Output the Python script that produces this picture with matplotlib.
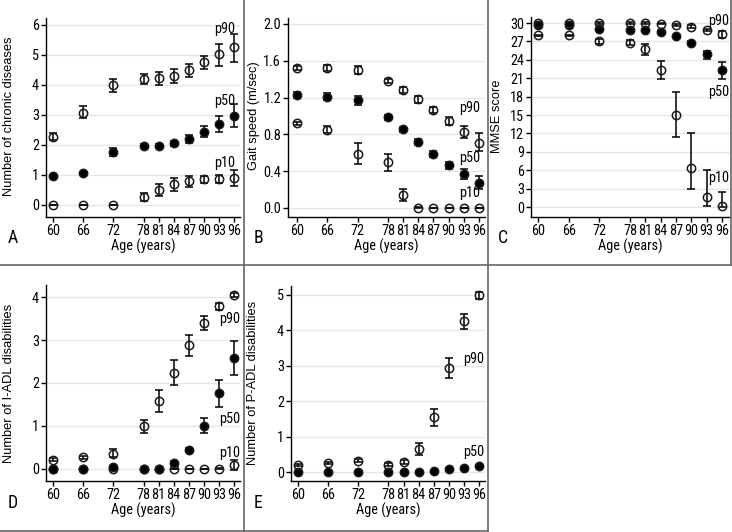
import os
import matplotlib
matplotlib.use("Agg")
import matplotlib.pyplot as plt
from matplotlib.lines import Line2D
from matplotlib import font_manager
from matplotlib.font_manager import FontProperties
from matplotlib.textpath import TextPath
import numpy as np

plt.rcParams['font.family'] = ['Liberation Sans', 'DejaVu Sans']

ages = [60, 66, 72, 78, 81, 84, 87, 90, 93, 96]
age_labels = [str(a) for a in ages]

# Panel A: chronic diseases
a_p90 = [2.28, 3.08, 4.00, 4.20, 4.22, 4.31, 4.50, 4.76, 5.02, 5.28]
a_p90_lo = [2.17, 2.89, 3.78, 4.02, 4.00, 4.08, 4.28, 4.52, 4.64, 4.78]
a_p90_hi = [2.39, 3.30, 4.20, 4.37, 4.42, 4.52, 4.69, 4.97, 5.36, 5.69]
a_p50 = [0.97, 1.06, 1.76, 1.98, 1.98, 2.06, 2.19, 2.44, 2.70, 2.98]
a_p50_lo = [0.93, 1.01, 1.63, 1.93, 1.92, 1.97, 2.06, 2.26, 2.42, 2.61]
a_p50_hi = [1.01, 1.11, 1.89, 2.03, 2.04, 2.14, 2.33, 2.63, 2.97, 3.36]
a_p10 = [0.0, 0.0, 0.0, 0.28, 0.50, 0.69, 0.80, 0.86, 0.87, 0.91]
a_p10_lo = [0.0, 0.0, 0.0, 0.14, 0.30, 0.47, 0.61, 0.74, 0.74, 0.64]
a_p10_hi = [0.0, 0.0, 0.0, 0.41, 0.70, 0.91, 0.98, 0.97, 1.00, 1.17]

# Panel B: gait speed
b_p90 = [1.52, 1.52, 1.50, 1.38, 1.28, 1.18, 1.065, 0.945, 0.83, 0.71]
b_p90_lo = [1.50, 1.49, 1.46, 1.36, 1.25, 1.14, 1.03, 0.90, 0.76, 0.62]
b_p90_hi = [1.54, 1.55, 1.54, 1.40, 1.31, 1.22, 1.10, 0.99, 0.89, 0.81]
b_p50 = [1.23, 1.21, 1.17, 0.985, 0.855, 0.72, 0.585, 0.465, 0.367, 0.276]
b_p50_lo = [1.20, 1.17, 1.12, 0.955, 0.825, 0.69, 0.555, 0.425, 0.31, 0.21]
b_p50_hi = [1.26, 1.25, 1.22, 1.015, 0.885, 0.75, 0.615, 0.505, 0.42, 0.35]
b_p10 = [0.92, 0.85, 0.59, 0.495, 0.145, 0.005, 0.0, 0.0, 0.0, 0.0]
b_p10_lo = [0.90, 0.81, 0.48, 0.40, 0.08, 0.0, 0.0, 0.0, 0.0, 0.0]
b_p10_hi = [0.94, 0.89, 0.71, 0.585, 0.21, 0.01, 0.0, 0.0, 0.0, 0.0]

# Panel C: MMSE
c_p90 = [30.0, 30.0, 30.0, 30.0, 30.0, 29.9, 29.7, 29.4, 28.9, 28.2]
c_p90_lo = [29.9, 29.9, 29.9, 29.9, 29.9, 29.8, 29.5, 29.2, 28.7, 27.55]
c_p90_hi = [30.1, 30.1, 30.1, 30.1, 30.1, 30.0, 29.9, 29.6, 29.1, 28.75]
c_p50 = [29.7, 29.7, 29.0, 28.9, 28.9, 28.6, 27.9, 26.8, 24.9, 22.35]
c_p50_lo = [29.6, 29.6, 28.9, 28.8, 28.8, 28.4, 27.7, 26.6, 24.1, 20.9]
c_p50_hi = [29.8, 29.8, 29.1, 29.0, 29.0, 28.8, 28.1, 27.0, 25.5, 23.6]
c_p10 = [28.0, 28.0, 27.0, 26.8, 25.8, 22.3, 15.0, 6.4, 1.7, 0.1]
c_p10_lo = [27.9, 27.9, 26.5, 26.4, 24.8, 20.8, 11.4, 2.9, 0.2, 0.0]
c_p10_hi = [28.1, 28.1, 27.45, 27.2, 26.5, 23.75, 18.7, 12.0, 6.0, 2.5]

# Panel D: I-ADL disabilities
d_p90 = [0.22, 0.27, 0.35, 1.00, 1.59, 2.24, 2.88, 3.40, 3.78, 4.04]
d_p90_lo = [0.18, 0.23, 0.27, 0.84, 1.33, 1.95, 2.63, 3.23, 3.70, 3.99]
d_p90_hi = [0.26, 0.31, 0.46, 1.15, 1.83, 2.53, 3.11, 3.55, 3.86, 4.09]
d_p50 = [0.0, 0.0, 0.05, 0.0, 0.0, 0.15, 0.44, 1.00, 1.76, 2.58]
d_p50_lo = [0.0, 0.0, 0.02, 0.0, 0.0, 0.12, 0.39, 0.83, 1.45, 2.18]
d_p50_hi = [0.0, 0.0, 0.08, 0.0, 0.0, 0.18, 0.49, 1.18, 2.07, 2.97]
d_p10 = [0.0, 0.0, 0.0, 0.0, 0.0, 0.0, 0.0, 0.0, 0.0, 0.10]
d_p10_lo = [0.0, 0.0, 0.0, 0.0, 0.0, 0.0, 0.0, 0.0, 0.0, -0.02]
d_p10_hi = [0.0, 0.0, 0.0, 0.0, 0.0, 0.0, 0.0, 0.0, 0.03, 0.21]

# Panel E: P-ADL disabilities
e_p90 = [0.20, 0.25, 0.32, 0.20, 0.28, 0.66, 1.54, 2.93, 4.25, 5.00]
e_p90_lo = [0.17, 0.22, 0.28, 0.16, 0.23, 0.49, 1.31, 2.65, 4.03, 4.88]
e_p90_hi = [0.23, 0.28, 0.36, 0.24, 0.33, 0.82, 1.78, 3.21, 4.45, 5.09]
e_p50 = [0.0, 0.0, 0.0, 0.0, 0.0, 0.01, 0.04, 0.08, 0.11, 0.16]
e_p50_lo = [0.0, 0.0, 0.0, 0.0, 0.0, 0.0, 0.02, 0.06, 0.08, 0.11]
e_p50_hi = [0.0, 0.0, 0.0, 0.0, 0.0, 0.02, 0.06, 0.10, 0.14, 0.21]


# ---- pick a narrow sans font if one is installed ----
def find_narrow():
    best = None
    bad = ['bold', 'italic', 'light', 'thin', 'black', 'medium', 'semi', 'oblique', 'heavy']
    for f in font_manager.fontManager.ttflist:
        fn = os.path.basename(f.fname).lower()
        n = f.name.lower()
        if any(b in fn for b in bad):
            continue
        if not fn.endswith(('.ttf', '.otf')):
            continue
        pr = None
        if 'liberationsansnarrow' in fn.replace('-', '') or 'liberation sans narrow' in n:
            pr = 0
        elif 'arialnarrow' in fn.replace(' ', '') or 'arial narrow' in n:
            pr = 1
        elif ('condensed' in fn or 'condensed' in n) and ('noto' in fn or 'roboto' in fn or 'opensans' in fn) and 'extracondensed' not in fn:
            pr = 2
        if pr is not None and (best is None or pr < best[0]):
            best = (pr, f.fname)
    return best[1] if best else None


narrow_path = find_narrow()
if narrow_path:
    base_fp = FontProperties(fname=narrow_path)
else:
    base_fp = FontProperties(family='Liberation Sans')


def ink_w(s, size):
    return TextPath((0, 0), s, size=size, prop=base_fp).get_extents().width * 100 / 72


hsize = min(10.5, 10.0 * 63.0 / ink_w('Age (years)', 10.0))


def hfp(scale=1.0):
    fp = base_fp.copy()
    fp.set_size(hsize * scale)
    return fp


W, H = 732, 532
fig = plt.figure(figsize=(W / 100, H / 100), dpi=100)


def rect(x0, x1, ytop, ybot):
    return [x0 / W, 1 - ybot / H, (x1 - x0) / W, (ybot - ytop) / H]


def series(ax, y, lo, hi, filled):
    y = np.array(y); lo = np.array(lo); hi = np.array(hi)
    err = [np.clip(y - lo, 0, None), np.clip(hi - y, 0, None)]
    ax.errorbar(ages, y, yerr=err, fmt='none', ecolor='black', elinewidth=1.1,
                capsize=2.6, capthick=1.1, zorder=3)
    ax.plot(ages, y, 'o', ms=6, mec='#1a1a1a', mew=1.1,
            mfc='black' if filled else 'none', zorder=4, clip_on=False)


def setup(ax, xlim, ylim, yticks, ylabel, labx, laby, fmt='{:g}'):
    ax.set_xlim(*xlim)
    ax.set_ylim(*ylim)
    ax.set_xticks(ages, labels=age_labels, fontproperties=hfp())
    ax.set_yticks(yticks, labels=[fmt.format(v) for v in yticks], fontproperties=hfp())
    for s in ['top', 'right']:
        ax.spines[s].set_visible(False)
    for s in ['left', 'bottom']:
        ax.spines[s].set_linewidth(1.0)
    ax.tick_params(direction='out', length=3.5, width=1.0, pad=1.5)
    ax.yaxis.grid(True, color='#e6e6e6', lw=0.9)
    ax.set_axisbelow(True)
    ax.set_xlabel('Age (years)', fontproperties=hfp(), labelpad=0.5)
    fig.text(labx / W, 1 - laby / H, ylabel, rotation=90, ha='center', va='center',
             fontsize=9.3, family='Liberation Sans')


def label(ax, x, y, s):
    ax.text(x, y, s, ha='center', va='center', fontproperties=hfp(), zorder=5)


# Panel A
axA = fig.add_axes(rect(46, 240, 18, 217))
series(axA, a_p10, a_p10_lo, a_p10_hi, False)
series(axA, a_p50, a_p50_lo, a_p50_hi, True)
series(axA, a_p90, a_p90_lo, a_p90_hi, False)
setup(axA, (58.61, 97.19), (-0.4, 6.23), [0, 1, 2, 3, 4, 5, 6], 'Number of chronic diseases', 9, 116)
label(axA, 94.2, 5.85, 'p90'); label(axA, 94.2, 3.47, 'p50'); label(axA, 94.2, 1.41, 'p10')

# Panel B
axB = fig.add_axes(rect(288, 485, 18, 217))
series(axB, b_p10, b_p10_lo, b_p10_hi, False)
series(axB, b_p50, b_p50_lo, b_p50_hi, True)
series(axB, b_p90, b_p90_lo, b_p90_hi, False)
setup(axB, (58.22, 97.19), (-0.098, 2.065), [0.0, 0.4, 0.8, 1.2, 1.6, 2.0], 'Gait speed (m/sec)', 254, 116, '{:.1f}')
label(axB, 94.2, 1.09, 'p90'); label(axB, 94.2, 0.54, 'p50'); label(axB, 94.2, 0.16, 'p10')

# Panel C
axC = fig.add_axes(rect(531, 730, 17, 217))
series(axC, c_p10, c_p10_lo, c_p10_hi, False)
series(axC, c_p50, c_p50_lo, c_p50_hi, True)
series(axC, c_p90, c_p90_lo, c_p90_hi, False)
setup(axC, (58.63, 97.57), (-1.63, 30.98), list(range(0, 31, 3)), 'MMSE score', 497, 116)
label(axC, 95.3, 30.4, 'p90'); label(axC, 95.3, 18.8, 'p50'); label(axC, 95.3, 4.78, 'p10')

# Panel D
axD = fig.add_axes(rect(46, 240, 285, 481))
series(axD, d_p10, d_p10_lo, d_p10_hi, False)
series(axD, d_p50, d_p50_lo, d_p50_hi, True)
series(axD, d_p90, d_p90_lo, d_p90_hi, False)
setup(axD, (58.61, 97.19), (-0.28, 4.28), [0, 1, 2, 3, 4], 'Number of I-ADL disabilities', 9, 383)
label(axD, 95.1, 3.5, 'p90'); label(axD, 95.1, 1.16, 'p50'); label(axD, 95.1, 0.365, 'p10')

# Panel E
axE = fig.add_axes(rect(291, 485, 286, 481))
series(axE, e_p50, e_p50_lo, e_p50_hi, True)
series(axE, e_p90, e_p90_lo, e_p90_hi, False)
setup(axE, (58.61, 97.2), (-0.254, 5.25), [0, 1, 2, 3, 4, 5], 'Number of P-ADL disabilities', 253, 383)
label(axE, 94.9, 3.18, 'p90'); label(axE, 94.9, 0.57, 'p50')

# Panel letters
for s, (x, y) in zip('ABCDE', [(13, 238), (258, 238), (503, 238), (13, 503), (258, 503)]):
    fig.text(x / W, 1 - y / H, s, ha='center', va='center', fontproperties=hfp(1.25))

# Panel borders
bc = '#666666'
def fline(x0, y0, x1, y1):
    fig.add_artist(Line2D([x0 / W, x1 / W], [1 - y0 / H, 1 - y1 / H],
                          transform=fig.transFigure, color=bc, lw=1.2))

fline(243.5, 0, 243.5, 532)
fline(487.5, 0, 487.5, 532)
fline(731, 0, 731, 265)
fline(0, 265, 732, 265)
fline(0, 531, 487.5, 531)

fig.savefig('out.png', dpi=100)
